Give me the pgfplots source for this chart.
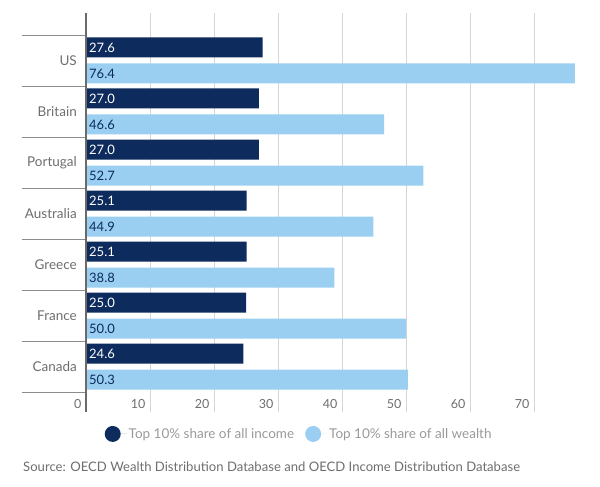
\documentclass[border=0pt]{standalone}
\usepackage{pgfplots}
\pgfplotsset{compat=1.18}
\usepackage{fontspec}
\setmainfont{Lato}
\definecolor{navy}{HTML}{0D2B5C}
\definecolor{lblue}{HTML}{9BCFF2}
\definecolor{txtgray}{HTML}{6E6E6E}
\definecolor{legray}{HTML}{9A9A9A}
\definecolor{gridgray}{HTML}{D6D6D6}
\definecolor{sepgray}{HTML}{8C8C8C}
\definecolor{axgray}{HTML}{6A6A6A}
\begin{document}
\begin{tikzpicture}[x=1pt,y=1pt]
\begin{axis}[
  at={(86pt,75pt)}, anchor=south west,
  scale only axis, width=490pt, height=399pt,
  xbar, bar width=20pt,
  xmin=0, xmax=76.5625,
  ymin=-0.93, ymax=6.89, y dir=reverse,
  clip=false,
  axis lines*=left,
  x axis line style={draw=none},
  y axis line style={draw=none},
  major tick length=0pt,
  xtick={0,10,...,70},
  xmajorgrids, grid style={gridgray, line width=0.8pt},
  /pgf/number format/assume math mode=true,
  xticklabel style={anchor=base east, inner sep=0pt, xshift=-4.5pt, yshift=3.5pt, text=txtgray, font=\fontsize{12.5}{12.5}\selectfont},
  ytick={0,...,6},
  yticklabels={US,Britain,Portugal,Australia,Greece,France,Canada},
  yticklabel style={anchor=east, inner sep=0pt, xshift=-9pt, text=txtgray, font=\fontsize{13.5}{13.5}\selectfont},
  extra y ticks={-0.5,0.5,1.5,2.5,3.5,4.5,5.5,6.5},
  extra y tick labels={},
  extra y tick style={major tick length=64pt, tick align=outside, tick style={draw=sepgray, line width=0.8pt}},
  legend style={at={(0.435,-0.055)}, anchor=center, draw=none, fill=none,
    legend columns=2, font=\fontsize{13.5}{13.5}\selectfont, text=legray,
    /tikz/every even column/.append style={column sep=9pt}, inner sep=0pt},
]
\addplot[fill=navy, draw=none, bar shift=13pt,
  legend image code/.code={\fill[navy] (0pt,0pt) circle (8pt); \path (-8pt,0pt) -- (14pt,0pt);}]
  coordinates {(27.6,0) (27.0,1) (27.0,2) (25.1,3) (25.1,4) (25.0,5) (24.6,6)};
\addlegendentry{Top 10\% share of all income}
\addplot[fill=lblue, draw=none, bar shift=-13pt,
  legend image code/.code={\fill[lblue] (0pt,0pt) circle (8pt); \path (-8pt,0pt) -- (14pt,0pt);}]
  coordinates {(76.4,0) (46.6,1) (52.7,2) (44.9,3) (38.8,4) (50.0,5) (50.3,6)};
\addlegendentry{Top 10\% share of all wealth}
\addplot[draw=none, fill=none, bar shift=13pt, forget plot,
  nodes near coords, point meta=explicit symbolic,
  every node near coord/.append style={anchor=west, inner sep=0pt, xshift=3pt, text=white, font=\fontsize{13}{13}\selectfont}]
  coordinates {(0,0) [27.6] (0,1) [27.0] (0,2) [27.0] (0,3) [25.1] (0,4) [25.1] (0,5) [25.0] (0,6) [24.6]};
\addplot[draw=none, fill=none, bar shift=-13pt, forget plot,
  nodes near coords, point meta=explicit symbolic,
  every node near coord/.append style={anchor=west, inner sep=0pt, xshift=3pt, text=navy, font=\fontsize{13}{13}\selectfont}]
  coordinates {(0,0) [76.4] (0,1) [46.6] (0,2) [52.7] (0,3) [44.9] (0,4) [38.8] (0,5) [50.0] (0,6) [50.3]};
\draw[axgray, line width=1.5pt] (rel axis cs:0,0) -- (rel axis cs:0,1);
\end{axis}
\node[anchor=base west, inner sep=0pt, text=txtgray, font=\fontsize{13.1}{13.1}\selectfont] at (23pt,15pt)
  {Source: OECD Wealth Distribution Database and OECD Income Distribution Database};
\pgfresetboundingbox
\useasboundingbox (0pt,0pt) rectangle (600pt,487pt);
\end{tikzpicture}
\end{document}
